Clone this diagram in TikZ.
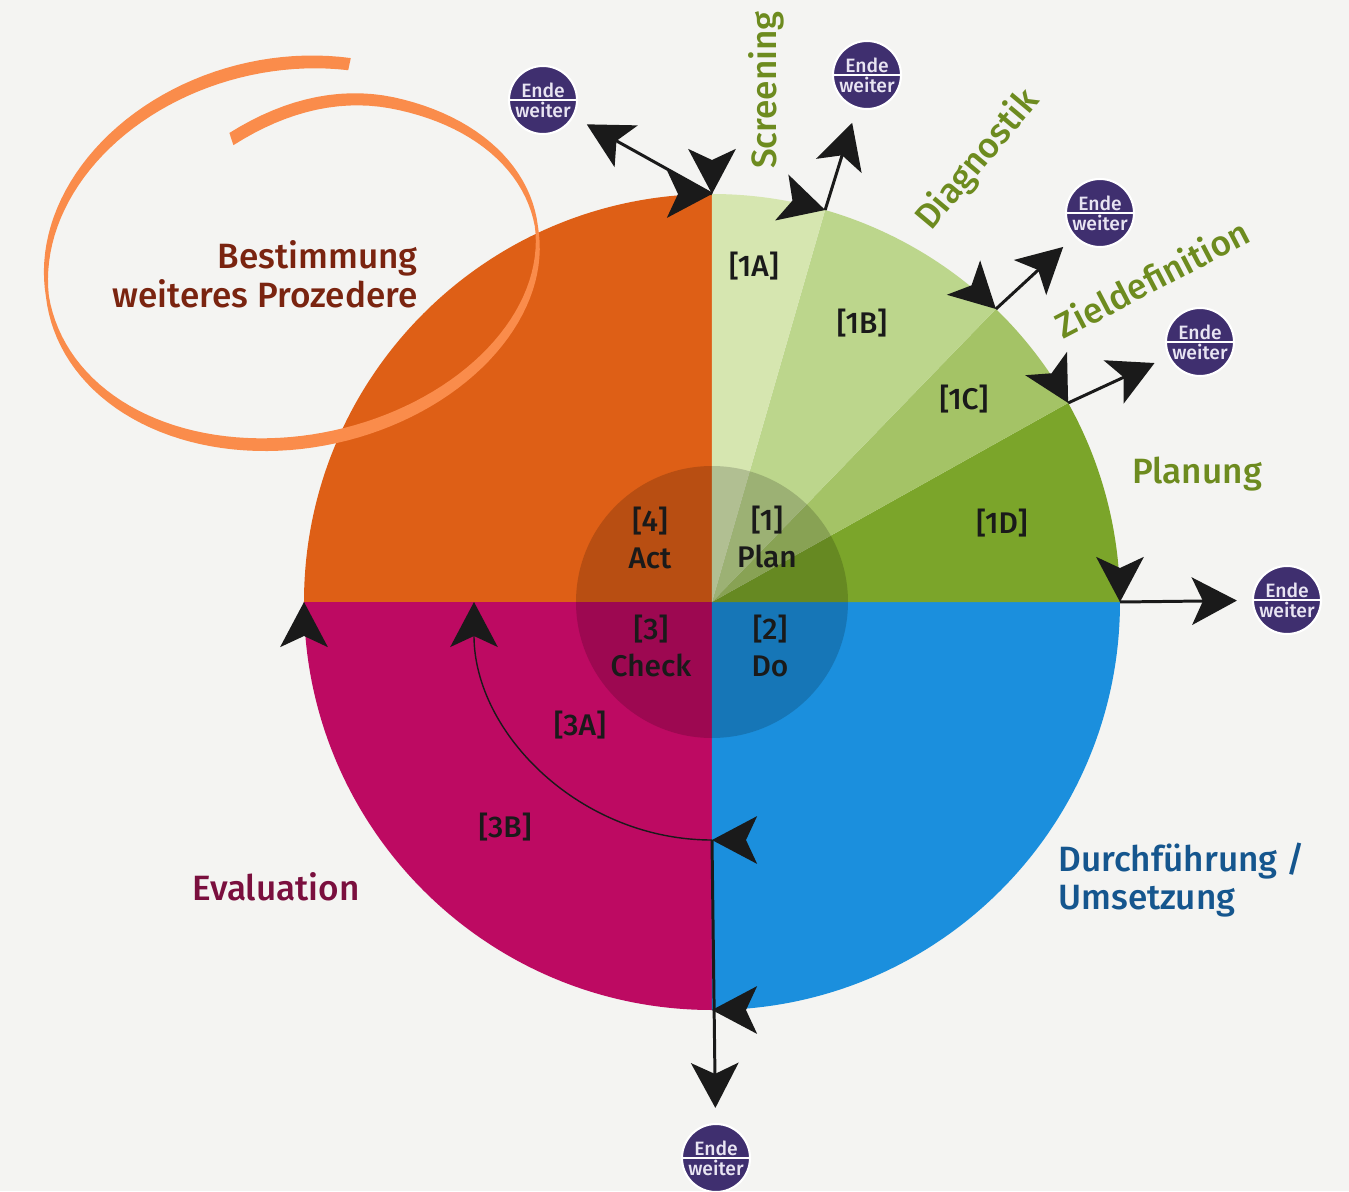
\documentclass[tikz,border=0pt]{standalone}
\usepackage{fontspec}
\setmainfont{Fira Sans}[UprightFont={* Medium}]
\usetikzlibrary{arrows.meta,calc,shapes.multipart}
\definecolor{papier}{HTML}{F4F4F2}
\definecolor{orangeq}{HTML}{DE5F16}
\definecolor{magentaq}{HTML}{BD0A62}
\definecolor{blauq}{HTML}{1B8FDD}
\definecolor{gruenA}{HTML}{D6E6B0}
\definecolor{gruenB}{HTML}{BCD68C}
\definecolor{gruenC}{HTML}{A4C366}
\definecolor{gruenD}{HTML}{7BA52A}
\definecolor{lila}{HTML}{3F2F6F}
\definecolor{hell}{HTML}{E8E4F2}
\definecolor{oliv}{HTML}{6D8B1F}
\definecolor{rotbraun}{HTML}{7A2410}
\definecolor{dunkelblau}{HTML}{15568E}
\definecolor{weinrot}{HTML}{7A0F3E}
\definecolor{kringelfarbe}{HTML}{FA8C4B}
\definecolor{tinte}{HTML}{1A1A1A}
\begin{document}
\begin{tikzpicture}[x=0.02cm,y=0.02cm,
	kopf/.style={tinte,line width=1.7pt,-{Stealth[length=0.9cm,width=0.95cm,inset=0.22cm]}},
	linie/.style={kopf,shorten >=0.3cm},
	ende/.style={circle split,draw=white,line width=1.2pt,fill=lila,text=hell,minimum size=1.32cm,inner sep=0.5pt,font=\fontsize{11}{12}\selectfont},
	feld/.style={text=tinte,align=center,font=\fontsize{17}{21}\selectfont},
	titel/.style={font=\fontsize{20}{22}\selectfont}]
	\fill[papier] (-712,-589) rectangle (637,602);
	\useasboundingbox (-712,-589) rectangle (637,602);
	\fill[orangeq] (0,0) -- (90:408) arc[start angle=90,end angle=180,radius=408] -- cycle;
	\fill[magentaq] (0,0) -- (180:408) arc[start angle=180,end angle=270,radius=408] -- cycle;
	\fill[blauq] (0,0) -- (270:408) arc[start angle=270,end angle=360,radius=408] -- cycle;
	\fill[gruenD] (0,0) -- (0:408) arc[start angle=0,end angle=29.2,radius=408] -- cycle;
	\fill[gruenC] (0,0) -- (29.2:408) arc[start angle=29.2,end angle=45.9,radius=408] -- cycle;
	\fill[gruenB] (0,0) -- (45.9:408) arc[start angle=45.9,end angle=73.9,radius=408] -- cycle;
	\fill[gruenA] (0,0) -- (73.9:408) arc[start angle=73.9,end angle=90,radius=408] -- cycle;
	\fill[black,opacity=0.17] (0,0) circle (136);
	\coordinate (p90) at (90:408);
	\coordinate (p74) at (73.9:408);
	\coordinate (p46) at (45.9:408);
	\coordinate (p29) at (29.2:408);
	\coordinate (p0) at (0:408);
	\coordinate (p270) at (270:408);
	\coordinate (p180) at (180:408);
	\coordinate (c270) at (270:238);
	\begin{scope}[shift={(-420,340)},rotate=8]
		\fill[kringelfarbe] plot[domain=70:460,samples=150,variable=\t]
			({(248.5+5*abs(sin(\t)))*cos(\t)},{(201.5-0.1*(\t-70)-0.018*(max(0,\t-420))^2+5*abs(sin(\t)))*sin(\t)})
			-- plot[domain=460:70,samples=150,variable=\t]
			({(245.5-5*abs(sin(\t)))*cos(\t)},{(198.5-0.1*(\t-70)-0.018*(max(0,\t-420))^2-5*abs(sin(\t)))*sin(\t)}) -- cycle;
	\end{scope}
	\node[ende] (e1) at (-169,502) {Ende\nodepart{lower}weiter};
	\node[ende] (e2) at (155,527) {Ende\nodepart{lower}weiter};
	\node[ende] (e3) at (388,389) {Ende\nodepart{lower}weiter};
	\node[ende] (e4) at (488,260) {Ende\nodepart{lower}weiter};
	\node[ende] (e5) at (575,2) {Ende\nodepart{lower}weiter};
	\node[ende] (e6) at (4,-556) {Ende\nodepart{lower}weiter};
	\node[feld] (f1a) at (42,336) {[1A]};
	\node[feld] (f1b) at (150,279) {[1B]};
	\node[feld] (f1c) at (252,203) {[1C]};
	\node[feld] (f1d) at (290,79) {[1D]};
	\node[feld] (act) at (-62,64) {[4]\\Act};
	\node[feld] (plan) at (55,65) {[1]\\Plan};
	\node[feld] (check) at (-61,-44) {[3]\\Check};
	\node[feld] (do) at (58,-44) {[2]\\Do};
	\node[feld] (f3a) at (-132,-123) {[3A]};
	\node[feld] (f3b) at (-207,-225) {[3B]};
	\node[titel,text=rotbraun,align=right,anchor=east,inner sep=0] (bestimmung) at (-294,328) {Bestimmung\\weiteres Prozedere};
	\node[titel,text=oliv,rotate=90] (screening) at (54,512) {Screening};
	\node[titel,text=oliv,rotate=50] (diagnostik) at (266,442) {Diagnostik};
	\node[titel,text=oliv,rotate=27.5] (ziel) at (440,324) {Zieldefinition};
	\node[titel,text=oliv] (planung) at (485,128) {Planung};
	\node[titel,text=dunkelblau,align=left,anchor=west,inner sep=0] (durch) at (346,-278) {Durchführung /\\Umsetzung};
	\node[titel,text=weinrot] (evaluation) at (-436,-285) {Evaluation};
	\draw[linie] (p90) -- (e1);
	\draw[linie] (p74) -- (e2);
	\draw[linie] (p46) -- (e3);
	\draw[linie] (p29) -- (e4);
	\draw[linie] (p0) -- (e5);
	\draw[linie] (c270) -- (e6);
	\draw[kopf] ($(p90)+(180:30)$) -- (p90);
	\draw[kopf] ($(p90)+(90:30)$) -- (p90);
	\draw[kopf] ($(p74)+(163.9:30)$) -- (p74);
	\draw[kopf] ($(p46)+(135.9:30)$) -- (p46);
	\draw[kopf] ($(p29)+(119.2:30)$) -- (p29);
	\draw[kopf] ($(p0)+(90:30)$) -- (p0);
	\draw[kopf] ($(p270)+(0:30)$) -- (p270);
	\draw[kopf] ($(p180)+(270:30)$) -- (p180);
	\draw[kopf] ($(c270)+(0:30)$) -- (c270);
	\draw[kopf,line width=0.8pt] (c270) arc[start angle=270,end angle=180,radius=238];
\end{tikzpicture}
\end{document}
